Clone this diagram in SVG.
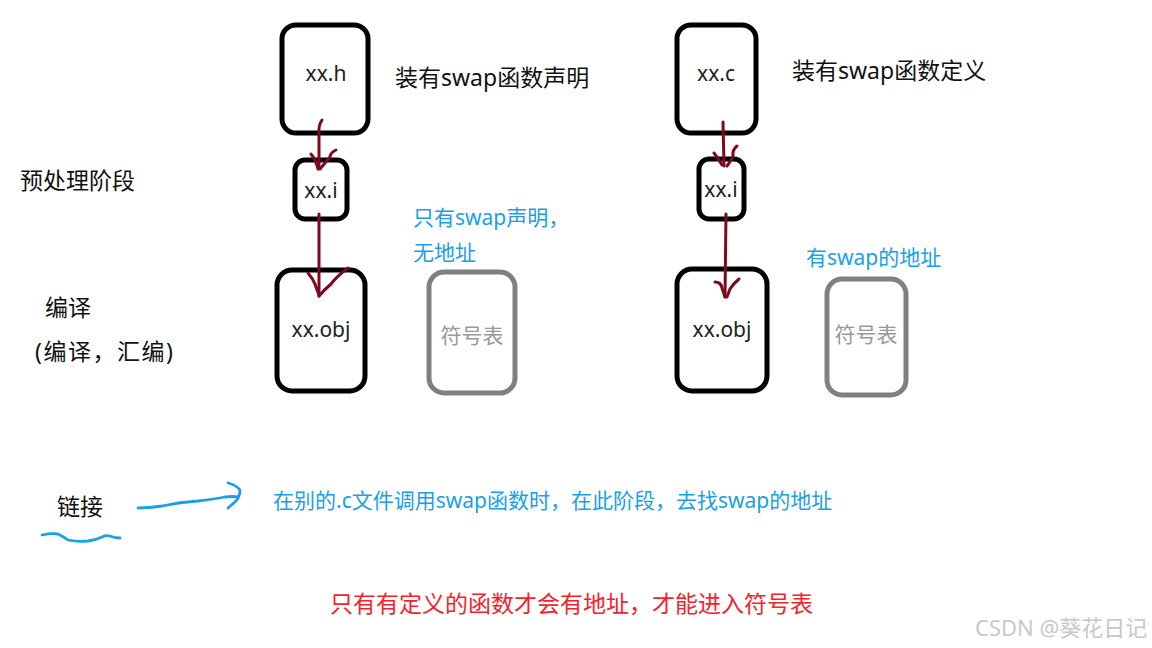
<svg xmlns="http://www.w3.org/2000/svg" width="1152" height="648" viewBox="0 0 1152 648">
<style>
text{font-family:"Noto Sans","Noto Sans CJK SC",sans-serif;}
.box{fill:#fff;stroke:#000;stroke-width:5;}
.gbox{fill:#fff;stroke:#808080;stroke-width:5;}
.nt{font-size:21px;fill:#222;text-anchor:middle;}
.gt{font-size:21px;fill:#999;text-anchor:middle;}
.lbl{font-size:23px;fill:#111;}
.blue{font-size:21px;fill:#1aa0e6;}
.red{font-size:23px;fill:#f5222d;}
.ink{fill:none;stroke:#7d0a1c;stroke-width:3;stroke-linecap:round;stroke-linejoin:round;}
.bink{fill:none;stroke:#18a0e8;stroke-width:2.8;stroke-linecap:round;stroke-linejoin:round;}
</style>
<rect width="1152" height="648" fill="#fff"/>
<g id="node-xxh"><rect class="box" x="282" y="25" width="86" height="108" rx="14"/><text class="nt" x="326" y="81">xx.h</text></g>
<g id="node-xxi-left"><rect class="box" x="295" y="160" width="52" height="59" rx="10"/><text class="nt" x="321" y="198">xx.i</text></g>
<g id="node-xxobj-left"><rect class="box" x="277" y="270" width="88" height="121" rx="15"/><text class="nt" x="321" y="337">xx.obj</text></g>
<g id="node-symtab-left"><rect class="gbox" x="429" y="272" width="86" height="121" rx="15"/><text class="gt" x="472" y="343">符号表</text></g>
<g id="node-xxc"><rect class="box" x="677" y="25" width="79" height="108" rx="14"/><text class="nt" x="716" y="81">xx.c</text></g>
<g id="node-xxi-right"><rect class="box" x="699" y="159" width="45" height="60" rx="10"/><text class="nt" x="721" y="197">xx.i</text></g>
<g id="node-xxobj-right"><rect class="box" x="677" y="269" width="90" height="122" rx="15"/><text class="nt" x="722" y="337">xx.obj</text></g>
<g id="node-symtab-right"><rect class="gbox" x="827" y="279" width="79" height="116" rx="15"/><text class="gt" x="866" y="342">符号表</text></g>
<g id="connectors">
<path class="ink" d="M322,120 Q318,126 319,135 L319,168"/>
<path class="ink" d="M311,154 Q316,160 318,169"/>
<path class="ink" d="M336,150 Q330,153 330,157 Q325,163 320,169"/>
<path class="ink" d="M319,214 L319,296"/>
<path class="ink" d="M308,273 Q313,279 315,284 Q317,290 319,295"/>
<path class="ink" d="M348,268 Q337,276 331,284 Q324,290 319,296"/>
<path class="ink" d="M723,122 L724,166"/>
<path class="ink" d="M714,153 Q718,158 722,165"/>
<path class="ink" d="M737,146 Q732,150 733,156 Q731,161 727,166"/>
<path class="ink" d="M726,214 L725,297"/>
<path class="ink" d="M715,282 Q721,282 722,288 L725,297"/>
<path class="ink" d="M739,279 Q733,284 730,289 L727,297"/>
<path class="bink" d="M138,508 Q150,508 162,506 Q180,502 198,501 Q215,499 225,497 Q232,496 238,497"/>
<path class="bink" d="M228,483 Q236,485 240,490 Q240,496 236,501 L228,508"/>
<path class="bink" d="M42,535 Q52,533 58,534 Q64,537 68,540 Q78,542 88,541 Q96,540 102,537 Q106,535 110,536 Q114,538 120,538"/>
</g>
<text class="lbl" x="395" y="86">装有swap函数声明</text>
<text class="lbl" x="792" y="79">装有swap函数定义</text>
<text class="lbl" x="20" y="189">预处理阶段</text>
<text class="lbl" x="45" y="316">编译</text>
<text class="lbl" x="35" y="360" textLength="138" lengthAdjust="spacing">(编译，汇编)</text>
<text class="lbl" x="57" y="515">链接</text>
<text class="blue" x="413" y="225">只有swap声明，</text>
<text class="blue" x="413" y="260">无地址</text>
<text class="blue" x="806" y="265">有swap的地址</text>
<text class="blue" x="273" y="508">在别的.c文件调用swap函数时，在此阶段，去找swap的地址</text>
<text class="red" x="330" y="612">只有有定义的函数才会有地址，才能进入符号表</text>
<text x="975" y="636" style="font-size:22px;fill:#c8c8c8;">CSDN @葵花日记</text>
</svg>
